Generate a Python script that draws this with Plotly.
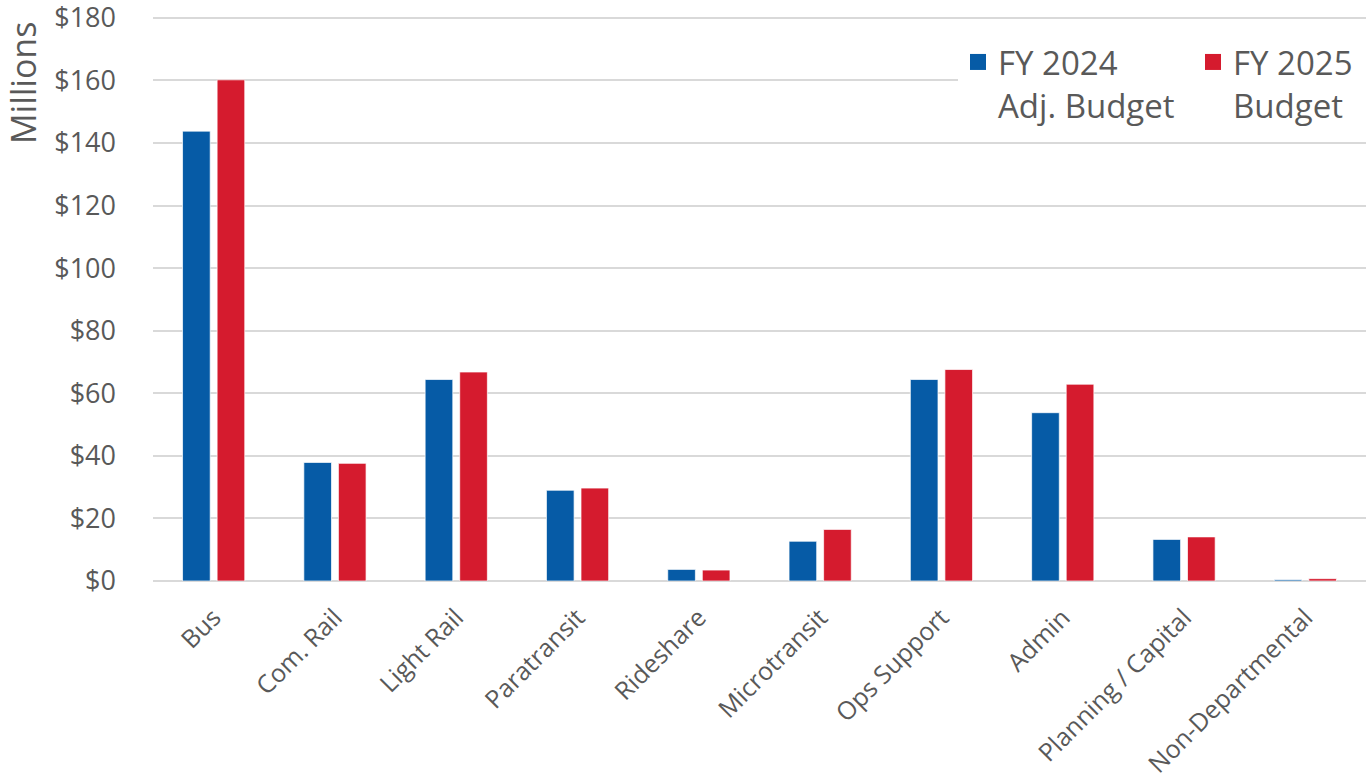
import plotly.graph_objects as go

categories = ["Bus", "Com. Rail", "Light Rail", "Paratransit", "Rideshare",
              "Microtransit", "Ops Support", "Admin", "Planning / Capital",
              "Non-Departmental"]
fy2024_adj = [143.8, 37.9, 64.4, 29.0, 3.7, 12.7, 64.4, 53.8, 13.3, 0.4]
fy2025 = [160.2, 37.6, 66.8, 29.7, 3.5, 16.5, 67.6, 62.9, 14.1, 0.75]
series_names = ["FY 2024<br>Adj. Budget", "FY 2025<br>Budget"]
y_ticks = [0, 20, 40, 60, 80, 100, 120, 140, 160, 180]
y_tick_labels = ["$0", "$20", "$40", "$60", "$80", "$100", "$120", "$140", "$160", "$180"]

BLUE = "#065BA6"
RED = "#D51B2E"
TXT = "#595959"
FONT = "Open Sans"

W, H = 1369, 779
L, R, T, B = 153, 3, 16, 198
PW = W - L - R
PH = H - T - B

fig = go.Figure()
for vals, col in ((fy2024_adj, BLUE), (fy2025, RED)):
    fig.add_trace(go.Bar(
        x=categories, y=vals, showlegend=False,
        marker=dict(color=col, line=dict(color="rgba(255,255,255,0.7)", width=1)),
    ))
# legend entries
for name, col in zip(series_names, (BLUE, RED)):
    fig.add_trace(go.Scatter(
        x=[None], y=[None], mode="markers", name=name,
        marker=dict(symbol="square", size=16, color=col),
    ))

fig.update_layout(
    width=W, height=H,
    margin=dict(l=L, r=R, t=T, b=B, autoexpand=False),
    paper_bgcolor="white", plot_bgcolor="white",
    barmode="group", bargap=0.43, bargroupgap=0.2,
    font=dict(family=FONT, color=TXT),
    legend=dict(
        orientation="h", x=(958 - 153) / PW, xanchor="left",
        y=(581 - 34) / PH, yanchor="top",
        bgcolor="white", font=dict(size=33, color=TXT, family=FONT),
        valign="top", itemsizing="trace",
        entrywidth=190, entrywidthmode="pixels",
    ),
    xaxis=dict(
        tickangle=-45, tickfont=dict(size=25, color=TXT, family=FONT),
        showgrid=False, showline=False, ticks="", automargin=False,
        ticklabelstandoff=16,
    ),
    yaxis=dict(
        range=[0, 180.6], tickmode="array", tickvals=y_ticks, ticktext=y_tick_labels,
        tickfont=dict(size=27, color=TXT, family=FONT),
        showgrid=True, gridcolor="#D9D9D9", gridwidth=1.5,
        zeroline=True, zerolinecolor="#D9D9D9", zerolinewidth=1.5,
        showline=False, ticks="", ticklabelstandoff=36, automargin=False,
        ticklabeloverflow="allow",
    ),
    annotations=[dict(
        text="Millions", xref="paper", yref="paper",
        x=-(153 - 23) / PW, y=(581 - 83) / PH,
        xanchor="center", yanchor="middle", textangle=-90, showarrow=False,
        font=dict(size=34, color=TXT, family=FONT),
    )],
)

fig.write_html("out.html", config={"displayModeBar": False},
               post_script="document.body.style.margin='0';")
